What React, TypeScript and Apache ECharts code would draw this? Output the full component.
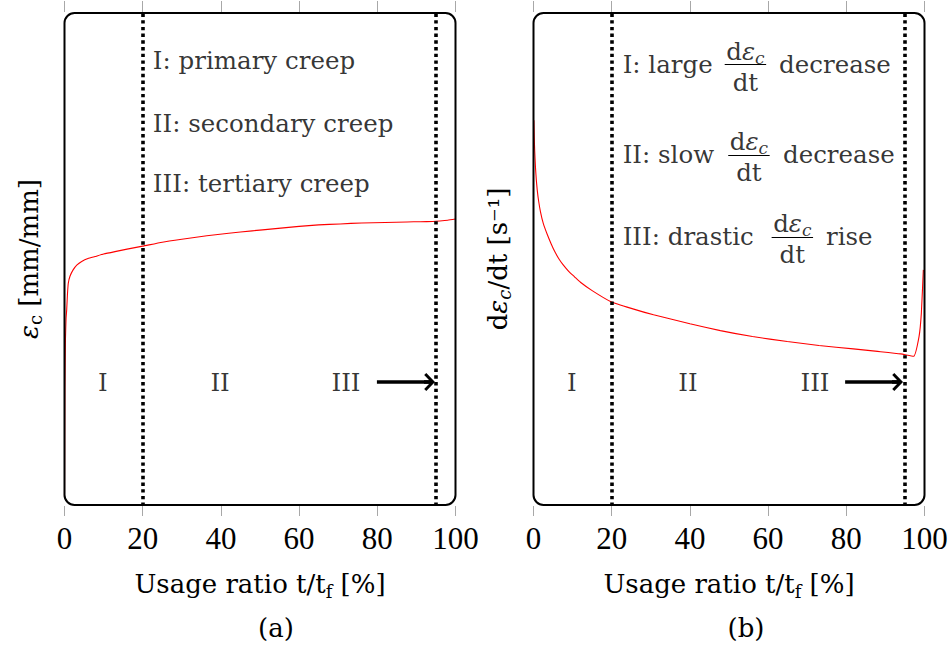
import React, { useEffect, useRef } from "react";
import * as echarts from "echarts";

// ---------------- data ----------------
const xTickValues = [0, 20, 40, 60, 80, 100];
const phaseBoundaries = [20, 95];
const phaseNames = ["I", "II", "III"];

// (a) creep strain vs usage ratio
const strainT = [0, 0.1, 0.25, 0.4, 0.56, 0.75, 0.97, 1.4, 2.2, 3.2, 4.4, 6, 7.8, 10, 12.9, 16, 20, 25, 30, 36.4, 42, 48, 53.3, 60, 65, 70.5, 76, 82, 87.6, 91, 94.2, 96, 98, 100];
const strainValue = [1.8, 24, 34, 38, 39.7, 42.8, 45.1, 46.5, 47.8, 48.8, 49.5, 50.1, 50.5, 51.0, 51.5, 52.0, 52.6, 53.4, 54.0, 54.7, 55.2, 55.7, 56.1, 56.6, 56.9, 57.1, 57.3, 57.4, 57.5, 57.55, 57.6, 57.7, 57.85, 58.1];

// (b) creep strain rate vs usage ratio
const rateT = [0.1, 0.2, 0.3, 0.5, 0.7, 0.95, 1.3, 1.8, 2.5, 3.5, 4.5, 5.5, 6.6, 7.7, 9, 10.5, 12, 15, 19.7, 25, 30.7, 40, 47.8, 56, 64.9, 73, 81.8, 88, 93.9, 97.2, 98.6, 99.2, 99.7];
const rateValue = [78.1, 74.5, 72, 68.6, 66.2, 64, 61.8, 59.5, 57.2, 55, 53.1, 51.4, 49.9, 48.7, 47.5, 46.4, 45.3, 43.6, 41.4, 40.0, 38.7, 36.9, 35.5, 34.3, 33.3, 32.5, 31.8, 31.3, 30.8, 30.3, 34.3, 39.1, 47.8];

// annotation texts
const creepNotes = ["I: primary creep", "II: secondary creep", "III: tertiary creep"];
const rateNotePrefix = ["I: large", "II: slow", "III: drastic"];
const rateNoteSuffix = ["decrease", "decrease", "rise"];
const fracNumerator = "d{i|ε}{sub|c}";
const fracDenominator = "dt";

// annotation anchors (data coordinates)
const creepNoteX = 22.6;
const creepNoteY = [90.1, 77.5, 65.2];
const phaseLabelY = 24.9;
const phaseLabelXLeft = [9.8, 39.8, 72];
const phaseLabelXRight = [9.8, 39.5, 72.0];
const arrowLeft = [79.9, 93.35];
const arrowRight = [79.7, 93.1];
const rateNoteX = 22.8;
const rateRowY = [89.4, 71.1, 54.5];
const rateFracX = [54.2, 55.1, 66.2];
const rateFracHalf = 5.3;
const rateSuffixX = [62.8, 63.8, 74.8];

// ---------------- styles / layout ----------------
const SERIF = "'DejaVu Serif', serif";
const TICK_FONT = "'Liberation Serif', serif";
const TEXT_SIZE = 24.5;
const panels = [
  { left: 64.5, top: 12, width: 391, height: 494 },
  { left: 533.5, top: 12, width: 391, height: 494 },
];
const ARROW_HEAD = "path://M10,0 L20,9.5 L17.8,11.8 L12,6.3 L12,12 L8,12 L8,6.3 L2.2,11.8 L0,9.5 Z";

const textRich = {
  i: { fontFamily: SERIF, fontSize: TEXT_SIZE, fontStyle: "italic", color: "#000" },
  sub: { fontFamily: SERIF, fontSize: 17, fontStyle: "italic", color: "#000", verticalAlign: "bottom", lineHeight: 17 },
  subr: { fontFamily: SERIF, fontSize: 18, color: "#000", verticalAlign: "bottom", lineHeight: 18 },
};

function xAxes(gridIndex: number) {
  const tickStyle = { color: "#a8a8a8", width: 1 };
  return [
    {
      type: "value",
      gridIndex,
      position: "bottom",
      min: 0,
      max: 100,
      interval: 20,
      axisLine: { show: false },
      axisTick: { show: true, inside: false, length: 10, lineStyle: tickStyle },
      splitLine: { show: false },
      axisLabel: {
        show: true,
        margin: 17,
        color: "#000",
        fontFamily: TICK_FONT,
        fontSize: 31,
        formatter: (v: number) => (xTickValues.includes(v) ? String(v) : ""),
      },
      name: "Usage ratio t/t{subr|f} [%]",
      nameLocation: "middle",
      nameGap: 62,
      nameTextStyle: {
        color: "#000",
        fontFamily: SERIF,
        fontSize: 26,
        lineHeight: 32,
        rich: { subr: { fontFamily: SERIF, fontSize: 18, color: "#000", verticalAlign: "bottom", lineHeight: 18 } },
      },
    },
    {
      type: "value",
      gridIndex,
      position: "top",
      min: 0,
      max: 100,
      interval: 20,
      axisLine: { show: false },
      axisTick: { show: true, inside: false, length: 11, lineStyle: tickStyle },
      splitLine: { show: false },
      axisLabel: { show: false },
    },
  ];
}

function yAxis(gridIndex: number, name: string, rich: any) {
  return {
    type: "value",
    gridIndex,
    min: 0,
    max: 100,
    axisLine: { show: false },
    axisTick: { show: false },
    axisLabel: { show: false },
    splitLine: { show: false },
    name,
    nameLocation: "middle",
    nameRotate: 90,
    nameGap: 20,
    nameTextStyle: { color: "#000", fontFamily: SERIF, fontSize: 26, lineHeight: 32, rich },
  };
}

function curveSeries(xAxisIndex: number, yAxisIndex: number, data: number[][]) {
  return {
    type: "line",
    xAxisIndex,
    yAxisIndex,
    data,
    symbol: "none",
    showSymbol: false,
    silent: true,
    smooth: 0.15,
    lineStyle: { color: "#ff0000", width: 1.1 },
    z: 2,
    markLine: {
      silent: true,
      symbol: ["none", "none"],
      label: { show: false },
      emphasis: { disabled: true },
      lineStyle: { color: "#000", width: 3.6, type: [3.4, 3.3], opacity: 1 },
      data: phaseBoundaries.map((v) => ({ xAxis: v })),
    },
  };
}

function labelSeries(xAxisIndex: number, yAxisIndex: number, items: any[], lines: any[]) {
  return {
    type: "scatter",
    xAxisIndex,
    yAxisIndex,
    symbolSize: 1,
    silent: true,
    itemStyle: { color: "rgba(0,0,0,0)" },
    emphasis: { disabled: true },
    label: {
      show: true,
      position: "inside",
      formatter: (p: any) => p.name,
      color: "#000",
      fontFamily: SERIF,
      fontSize: TEXT_SIZE,
      lineHeight: 30,
      verticalAlign: "middle",
      rich: textRich,
    },
    data: items,
    z: 5,
    markLine: {
      silent: true,
      symbol: ["none", "none"],
      label: { show: false },
      emphasis: { disabled: true },
      lineStyle: { color: "#000", width: 1.2, type: "solid", opacity: 1 },
      data: lines,
    },
  };
}

function arrowLine(xs: number[]) {
  return [
    { coord: [xs[0], phaseLabelY + 0.2], symbol: "none", lineStyle: { width: 3.5, color: "#000", type: "solid" } },
    { coord: [xs[1], phaseLabelY + 0.2], symbol: ARROW_HEAD, symbolSize: [18, 11] },
  ];
}

function buildOption() {
  const strainData = strainT.map((t, i) => [t, strainValue[i]]);
  const rateData = rateT.map((t, i) => [t, rateValue[i]]);

  const leftItems = [
    ...creepNotes.map((t, i) => ({ name: t, value: [creepNoteX, creepNoteY[i]], label: { align: "left" } })),
    ...phaseNames.map((t, i) => ({ name: t, value: [phaseLabelXLeft[i], phaseLabelY], label: { align: "center" } })),
  ];
  const rightItems = [
    ...rateNotePrefix.map((t, i) => ({ name: t, value: [rateNoteX, rateRowY[i]], label: { align: "left" } })),
    ...rateRowY.map((y, i) => ({ name: fracNumerator, value: [rateFracX[i], y], label: { align: "center", offset: [0, -13] } })),
    ...rateRowY.map((y, i) => ({ name: fracDenominator, value: [rateFracX[i], y], label: { align: "center", offset: [0, 18] } })),
    ...rateNoteSuffix.map((t, i) => ({ name: t, value: [rateSuffixX[i], rateRowY[i]], label: { align: "left" } })),
    ...phaseNames.map((t, i) => ({ name: t, value: [phaseLabelXRight[i], phaseLabelY], label: { align: "center" } })),
  ];
  const fracBars = rateRowY.map((y, i) => [
    { coord: [rateFracX[i] - rateFracHalf, y] },
    { coord: [rateFracX[i] + rateFracHalf, y] },
  ]);

  const boxes = panels.map((p) => ({
    type: "rect",
    z: 100,
    silent: true,
    shape: { x: p.left, y: p.top + 1, width: p.width, height: p.height - 2, r: 10 },
    style: { fill: "none", stroke: "#000", lineWidth: 2 },
  }));
  const captions = [
    { text: "(a)", x: 276 },
    { text: "(b)", x: 746 },
  ].map((c) => ({
    type: "text",
    x: c.x,
    y: 628,
    silent: true,
    style: { text: c.text, fill: "#000", font: `26px ${SERIF}`, align: "center", verticalAlign: "middle" },
  }));

  return {
    animation: false,
    backgroundColor: "#fff",
    grid: panels.map((p) => ({ ...p, containLabel: false, outerBoundsMode: "none", show: false })),
    xAxis: [...xAxes(0), ...xAxes(1)],
    yAxis: [
      yAxis(0, "{i|ε}{subr|c} [mm/mm]", {
        i: { fontFamily: SERIF, fontSize: 26, fontStyle: "italic", color: "#000" },
        subr: { fontFamily: SERIF, fontSize: 18, color: "#000", verticalAlign: "bottom", lineHeight: 18 },
      }),
      yAxis(1, "d{i|ε}{sub|c}/dt [s⁻¹]", {
        i: { fontFamily: SERIF, fontSize: 26, fontStyle: "italic", color: "#000" },
        sub: { fontFamily: SERIF, fontSize: 18, fontStyle: "italic", color: "#000", verticalAlign: "bottom", lineHeight: 18 },
      }),
    ],
    series: [
      curveSeries(0, 0, strainData),
      labelSeries(0, 0, leftItems, [arrowLine(arrowLeft)]),
      curveSeries(2, 1, rateData),
      labelSeries(2, 1, rightItems, [...fracBars, arrowLine(arrowRight)]),
    ],
    graphic: [...boxes, ...captions],
  };
}

export default function App() {
  const ref = useRef<HTMLDivElement>(null);
  useEffect(() => {
    if (!ref.current) return;
    const chart = echarts.init(ref.current, null, { renderer: "svg" });
    chart.setOption(buildOption() as any);
    return () => chart.dispose();
  }, []);
  return (
    <div
      ref={ref}
      style={{ position: "fixed", left: 0, top: 0, width: 951, height: 649, background: "#fff" }}
    />
  );
}
